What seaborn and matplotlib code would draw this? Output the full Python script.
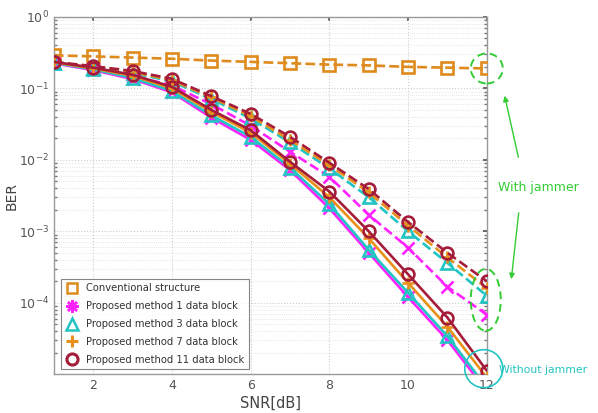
import numpy as np
import pandas as pd
import matplotlib
matplotlib.use("Agg")
import matplotlib.pyplot as plt
import seaborn as sns
from matplotlib.patches import Ellipse, FancyArrowPatch
from matplotlib.lines import Line2D
from matplotlib.transforms import IdentityTransform

snr = [1, 2, 3, 4, 5, 6, 7, 8, 9, 10, 11, 12]

conventional = [0.29, 0.28, 0.27, 0.26, 0.245, 0.235, 0.225, 0.215, 0.21, 0.20, 0.195, 0.19]

# with jammer (dashed)
jam_b1 = [0.225, 0.19, 0.15, 0.11, 0.06, 0.03, 0.013, 0.0058, 0.0017, 0.00059, 0.000167, 0.000068]
jam_b3 = [0.228, 0.195, 0.165, 0.125, 0.071, 0.038, 0.0175, 0.0076, 0.0030, 0.0010, 0.00036, 0.000125]
jam_b7 = [0.232, 0.20, 0.17, 0.13, 0.075, 0.041, 0.019, 0.0084, 0.0035, 0.0012, 0.00043, 0.00016]
jam_b11 = [0.235, 0.205, 0.175, 0.136, 0.078, 0.044, 0.021, 0.0091, 0.0039, 0.00135, 0.0005, 0.0002]

# without jammer (solid)
nojam_b1 = [0.225, 0.18, 0.135, 0.088, 0.039, 0.019, 0.0072, 0.0021, 0.0005, 0.00012, 3.0e-5, 5.8e-6]
nojam_b3 = [0.228, 0.185, 0.14, 0.092, 0.042, 0.021, 0.0078, 0.0024, 0.00055, 0.000138, 3.4e-5, 6.5e-6]
nojam_b7 = [0.232, 0.19, 0.15, 0.10, 0.047, 0.024, 0.0088, 0.0030, 0.0008, 0.00019, 4.6e-5, 9.0e-6]
nojam_b11 = [0.235, 0.195, 0.155, 0.105, 0.05, 0.026, 0.0094, 0.0036, 0.0010, 0.00025, 6.2e-5, 1.12e-5]

legend_labels = ["Conventional structure", "Proposed method 1 data block",
                 "Proposed method 3 data block", "Proposed method 7 data block",
                 "Proposed method 11 data block"]

C_CONV = "#DF8A1C"
C_MAG = "#FF22FF"
C_CYAN = "#22C4C4"
C_ORG = "#E8901A"
C_RED = "#A51C3A"

sns.set_theme(style="white")
plt.rcParams['font.family'] = ['DejaVu Sans']

fig = plt.figure(figsize=(5.98, 4.13), dpi=100)
ax = fig.add_axes([0.090, 0.094, 0.724, 0.865])

def draw(vals, color, marker, ls, z):
    sns.lineplot(x=snr, y=vals, ax=ax, color=color, marker=marker, linestyle=ls,
                 markerfacecolor='none', markeredgecolor=color, markersize=8.5,
                 markeredgewidth=1.9, linewidth=1.9, zorder=z)

draw(conventional, C_CONV, 's', '--', 3)
draw(jam_b1, C_MAG, 'x', '--', 3)
draw(jam_b3, C_CYAN, '^', '--', 3)
draw(jam_b7, C_ORG, '+', '--', 3)
draw(jam_b11, C_RED, 'o', '--', 3)
draw(nojam_b1, C_MAG, 'x', '-', 4)
draw(nojam_b3, C_CYAN, '^', '-', 4)
draw(nojam_b7, C_ORG, '+', '-', 4)
draw(nojam_b11, C_RED, 'o', '-', 4)

ax.set_yscale('log')
ax.set_xlim(1, 12)
ax.set_ylim(1e-5, 1)
ax.set_xticks([2, 4, 6, 8, 10, 12])
ax.set_yticks([1e0, 1e-1, 1e-2, 1e-3, 1e-4])
ax.tick_params(axis='both', labelsize=9, colors='#555555', direction='in', length=3)
ax.tick_params(axis='y', which='minor', direction='in', length=2, right=True, left=True, colors='#777777')
ax.tick_params(axis='both', which='major', right=True, top=True)
ax.grid(True, which='major', color='#cccccc', linestyle=':', linewidth=0.8)
ax.grid(True, which='minor', axis='y', color='#dddddd', linestyle=':', linewidth=0.6)
for s in ax.spines.values():
    s.set_color('#999999')
    s.set_linewidth(1.0)
ax.set_xlabel("SNR[dB]", fontsize=10.5, color='#444444', labelpad=3)
ax.set_ylabel("BER", fontsize=10, color='#444444', labelpad=0)

handles = [
    Line2D([], [], color=C_CONV, marker='s', linestyle='none', markerfacecolor='none', markeredgewidth=1.8, markersize=7),
    Line2D([], [], color=C_MAG, marker=(8, 2, 0), linestyle='none', markeredgewidth=1.8, markersize=9),
    Line2D([], [], color=C_CYAN, marker='^', linestyle='none', markerfacecolor='none', markeredgewidth=1.8, markersize=8),
    Line2D([], [], color=C_ORG, marker='+', linestyle='none', markeredgewidth=2.2, markersize=9),
    Line2D([], [], color=C_RED, marker='o', linestyle='none', markerfacecolor='none', markeredgewidth=2.2, markersize=8),
]
leg = ax.legend(handles, legend_labels, loc='lower left', bbox_to_anchor=(0.005, 0.0),
                fontsize=7.2, frameon=True, fancybox=False, edgecolor='#666666',
                handletextpad=0.8, borderpad=0.45, labelspacing=0.78, handlelength=1.3)
leg.get_frame().set_linewidth(0.8)
for t in leg.get_texts():
    t.set_color('#333333')

fig.canvas.draw()
def px(x, y):
    return ax.transData.transform((x, y))

GREEN = "#33CC33"
cx, cy = px(12, conventional[-1])
fig.add_artist(Ellipse((cx, cy), 32, 30, transform=IdentityTransform(), fill=False,
                       edgecolor=GREEN, linestyle=(0, (4, 2.5)), linewidth=1.4, clip_on=False))
cx2, cy2 = px(12, jam_b3[-1])
fig.add_artist(Ellipse((cx2 - 1, cy2 - 4), 30, 62, transform=IdentityTransform(), fill=False,
                       edgecolor=GREEN, linestyle=(0, (4, 2.5)), linewidth=1.4, clip_on=False))
cx3, cy3 = px(12, nojam_b11[-1])
fig.add_artist(Ellipse((cx3 - 3, cy3 + 2), 38, 38, transform=IdentityTransform(), fill=False,
                       edgecolor=C_CYAN, linestyle='-', linewidth=1.2, clip_on=False))

fig.text(538 / 598, 1 - 187 / 413, "With jammer", color=GREEN, fontsize=9, ha='center', va='center')
fig.text(499 / 598, 1 - 370 / 413, "Without jammer", color=C_CYAN, fontsize=7.8, ha='left', va='center')

fig.add_artist(FancyArrowPatch((519 / 598, 1 - 160 / 413), (504 / 598, 1 - 93 / 413),
               transform=fig.transFigure, arrowstyle='-|>', mutation_scale=8, color=GREEN, linewidth=1.0))
fig.add_artist(FancyArrowPatch((519 / 598, 1 - 210 / 413), (511 / 598, 1 - 282 / 413),
               transform=fig.transFigure, arrowstyle='-|>', mutation_scale=8, color=GREEN, linewidth=1.0))

fig.savefig("out.png", dpi=100)
